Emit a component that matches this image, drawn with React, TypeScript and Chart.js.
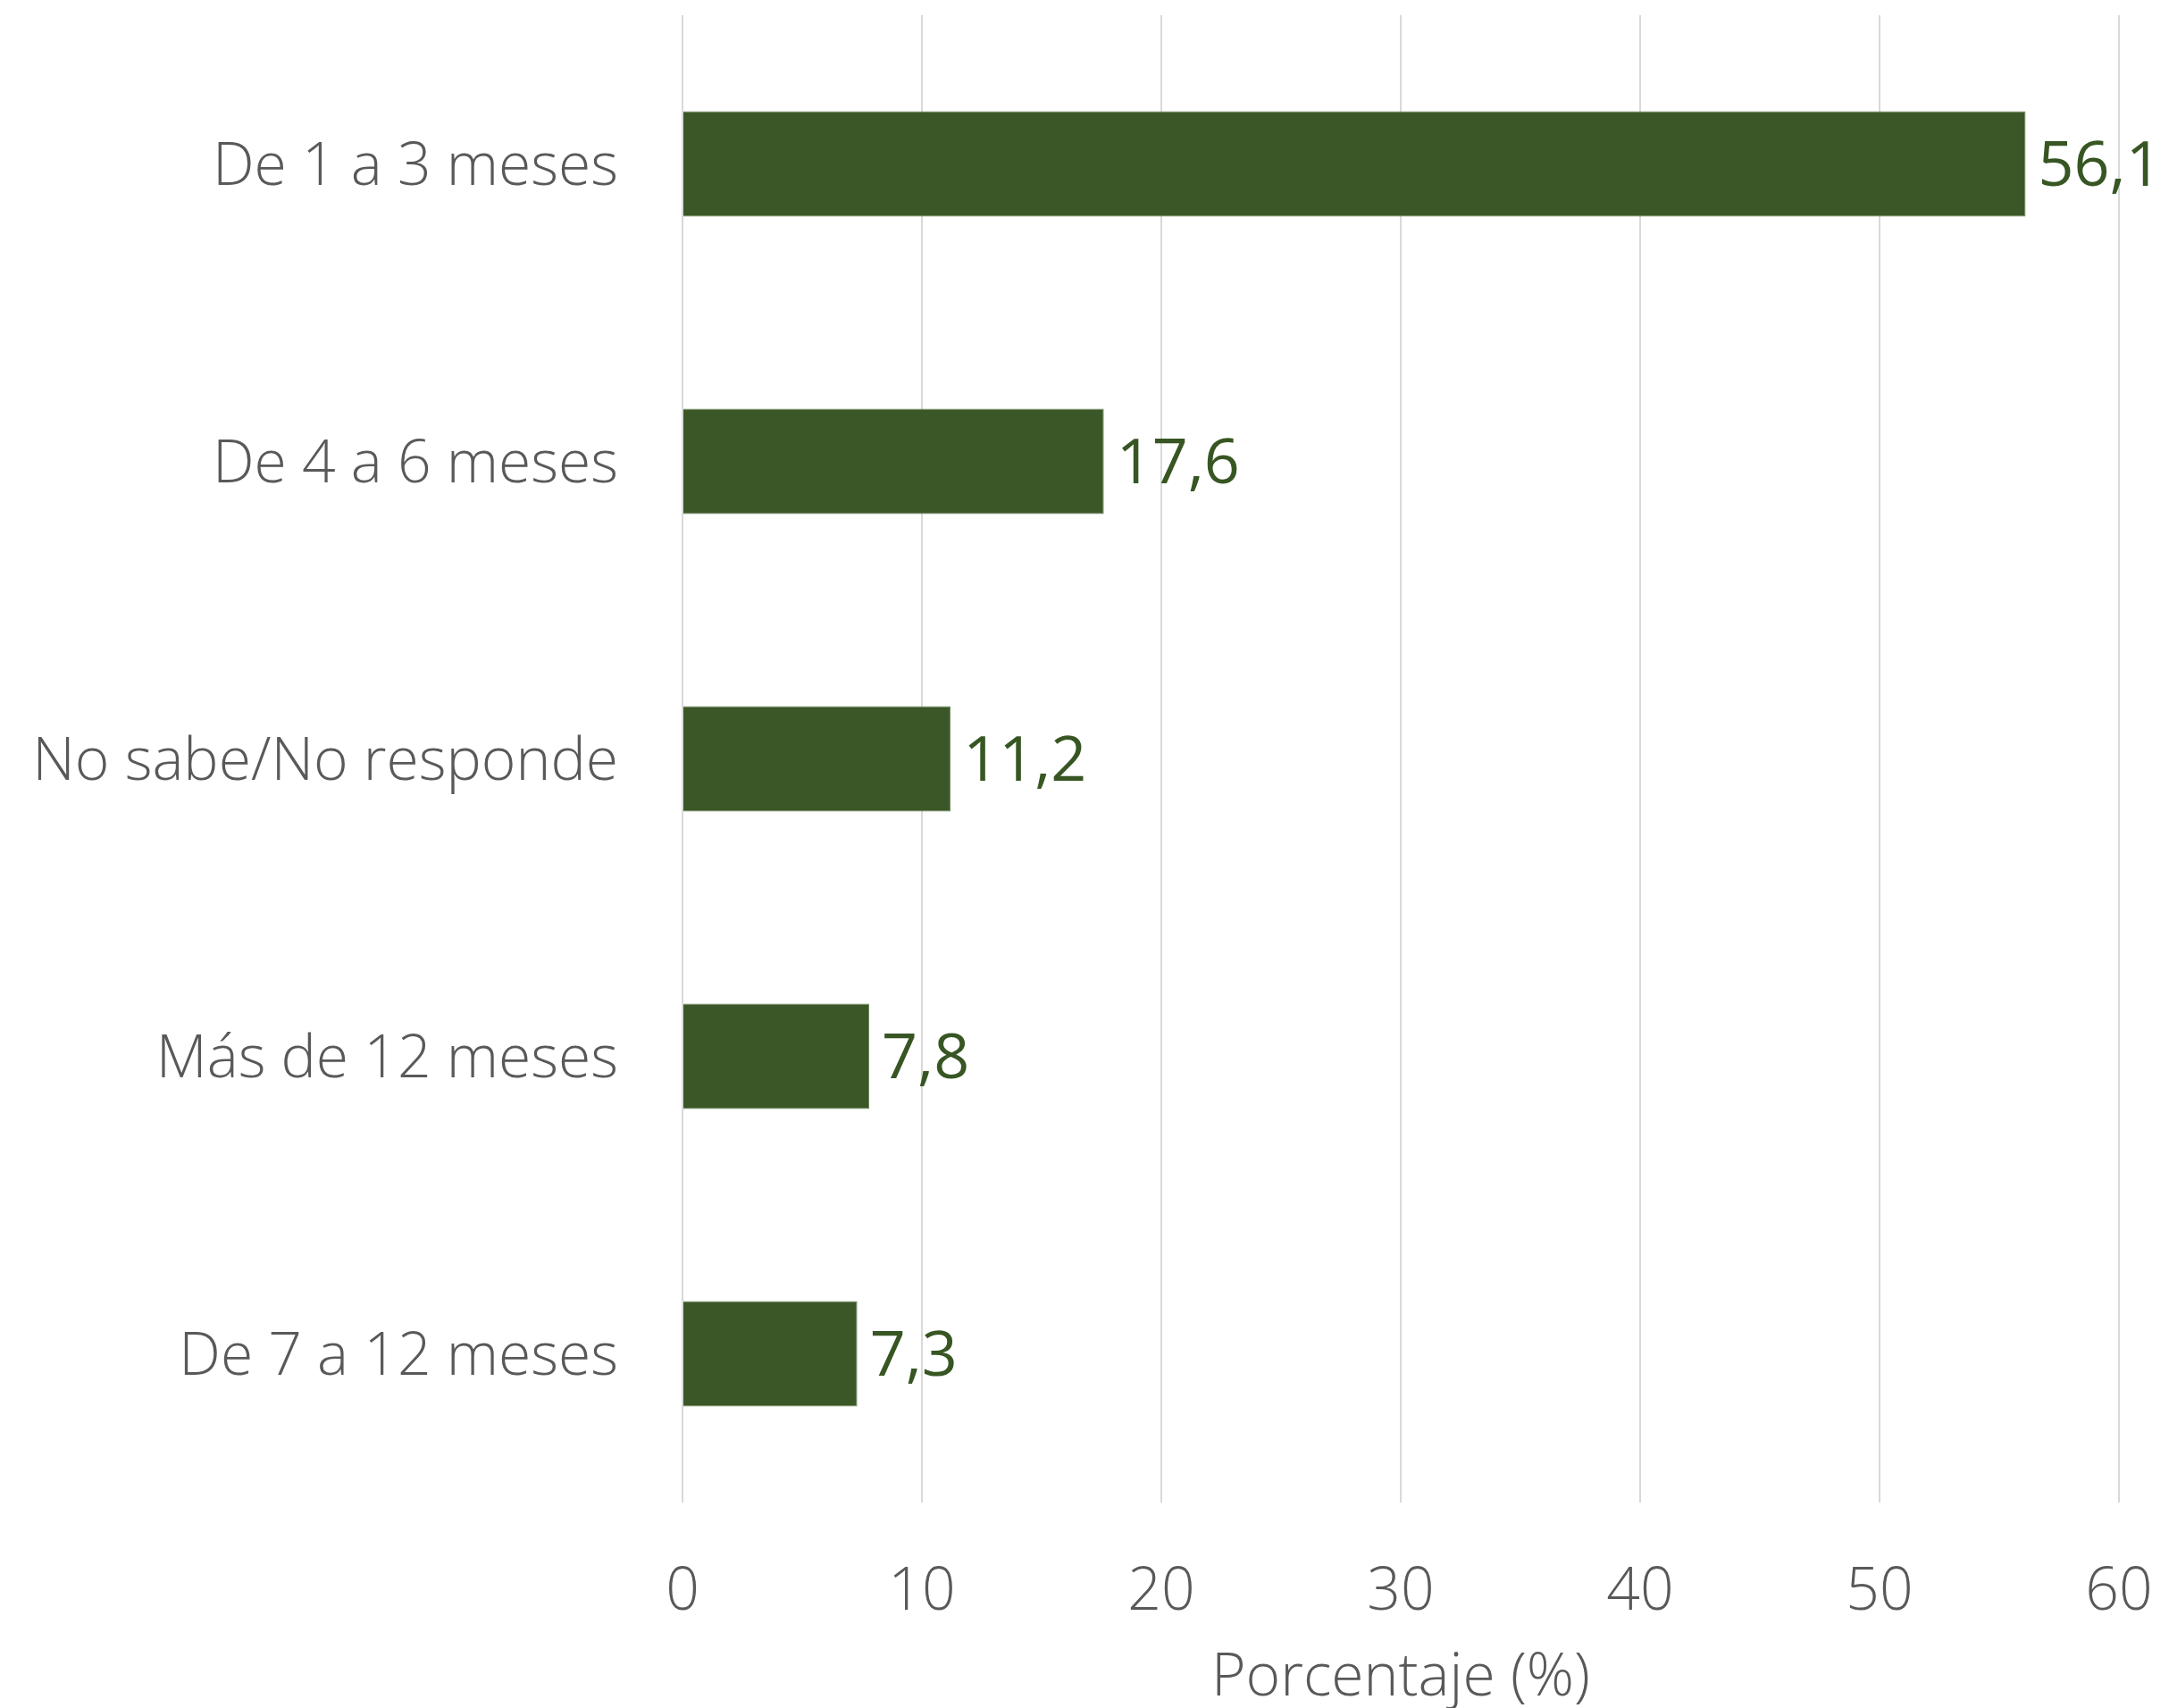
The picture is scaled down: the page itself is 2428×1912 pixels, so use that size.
import React, { useEffect, useRef } from "react";
import { Chart, registerables } from "chart.js";

Chart.register(...registerables);

const categories = [
  "De 1 a 3 meses",
  "De 4 a 6 meses",
  "No sabe/No responde",
  "Más de 12 meses",
  "De 7 a 12 meses",
];
const values = [56.1, 17.6, 11.2, 7.8, 7.3];
const valueLabels = ["56,1", "17,6", "11,2", "7,8", "7,3"];
const xTicks = [0, 10, 20, 30, 40, 50, 60];
const axisTitle = "Porcentaje (%)";

const FONT = "'Open Sans', 'Noto Sans', sans-serif";
const GREEN = "#3b5727";
const LABEL_GREEN = "#375623";
const GREY = "#595959";

const dataLabelPlugin = {
  id: "dataLabels",
  afterDatasetsDraw(chart: any) {
    const ctx = chart.ctx;
    const meta = chart.getDatasetMeta(0);
    ctx.save();
    ctx.fillStyle = LABEL_GREEN;
    ctx.font = `400 70px ${FONT}`;
    ctx.textAlign = "left";
    ctx.textBaseline = "middle";
    meta.data.forEach((bar: any, i: number) => {
      ctx.fillText(valueLabels[i], bar.x + 14, bar.y + 5);
    });
    ctx.restore();
  },
};

export default function App() {
  const ref = useRef<HTMLCanvasElement | null>(null);

  useEffect(() => {
    document.body.style.margin = "0";
    const canvas = ref.current!;
    const chart = new Chart(canvas, {
      type: "bar",
      data: {
        labels: categories,
        datasets: [
          {
            data: values,
            backgroundColor: GREEN,
            borderColor: "#6f8a5e",
            borderWidth: 1,
            barPercentage: 0.354,
            categoryPercentage: 1,
          },
        ],
      },
      options: {
        indexAxis: "y",
        animation: false,
        responsive: false,
        maintainAspectRatio: false,
        layout: { padding: { top: 17, right: 56, left: 0, bottom: 0 } },
        plugins: {
          legend: { display: false },
          tooltip: { enabled: false },
        },
        scales: {
          x: {
            min: 0,
            max: 60,
            afterBuildTicks: (scale: any) => {
              scale.ticks = xTicks.map((v) => ({ value: v }));
            },
            afterFit: (scale: any) => {
              scale.height = 230;
              scale.paddingLeft = 0;
              scale.paddingRight = 0;
            },
            grid: { color: "#d9d9d9", lineWidth: 2, drawTicks: false },
            border: { display: false },
            ticks: {
              color: GREY,
              font: { family: FONT, size: 66, weight: "300" },
              padding: 62,
              maxRotation: 0,
            },
            title: {
              display: true,
              text: axisTitle,
              color: GREY,
              font: { family: FONT, size: 66, weight: "300", lineHeight: 1 },
              padding: { top: 0, bottom: 0 },
            },
          },
          y: {
            afterFit: (scale: any) => {
              scale.width = 764;
              scale.paddingTop = 0;
              scale.paddingBottom = 0;
            },
            grid: { display: false, drawTicks: false },
            border: { display: false },
            ticks: {
              color: GREY,
              font: { family: FONT, size: 66, weight: "300" },
              padding: 72,
              labelOffset: 5,
            },
          },
        },
      },
      plugins: [dataLabelPlugin],
    });
    return () => chart.destroy();
  }, []);

  return (
    <div style={{ width: 2428, height: 1912, background: "#fff" }}>
      <canvas ref={ref} width={2428} height={1912} style={{ display: "block" }} />
    </div>
  );
}
